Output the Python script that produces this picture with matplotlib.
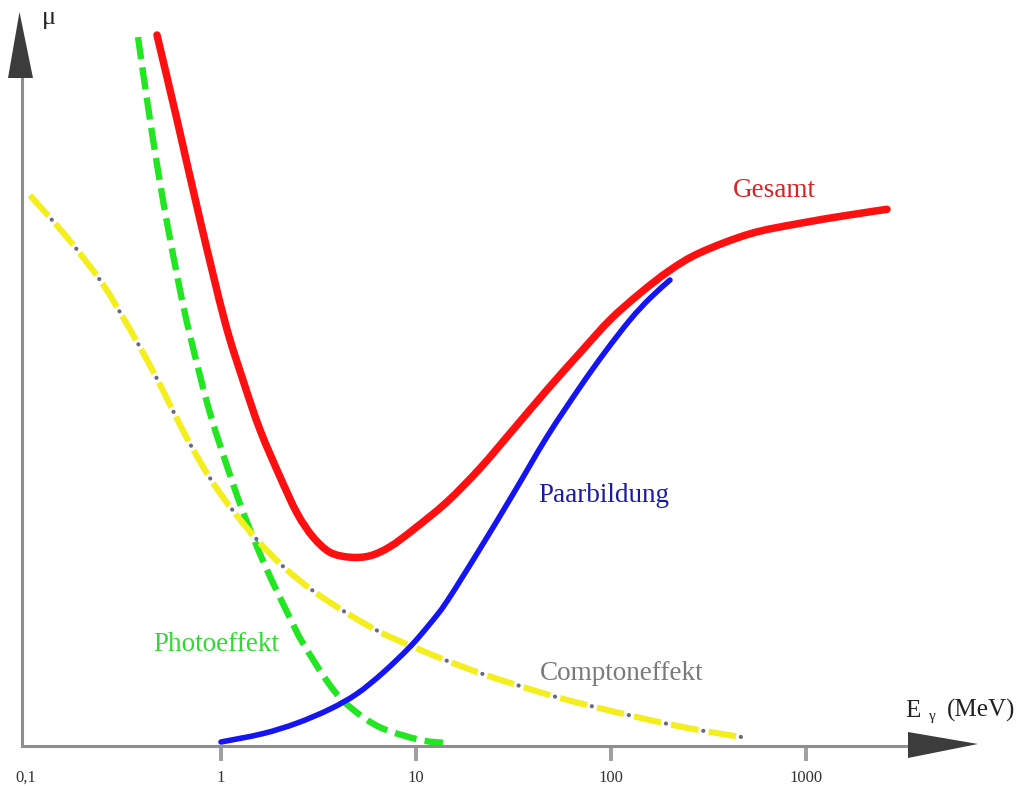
import numpy as np
import matplotlib
matplotlib.use("Agg")
import matplotlib.pyplot as plt
from matplotlib.patches import Polygon, PathPatch
from matplotlib.path import Path
from matplotlib.transforms import IdentityTransform

plt.rcParams["font.family"] = ["Liberation Serif", "DejaVu Serif"]
plt.rcParams["lines.scale_dashes"] = False

# Photon energy E (MeV) and attenuation coefficient mu (arbitrary units)
gesamt_E = [0.4696, 0.5949, 0.7805, 1.0484, 1.2966, 1.585, 2.007, 2.454, 2.963,
            3.622, 4.587, 5.808, 7.356, 9.652, 14.42, 21.29, 31.44, 46.96, 69.35,
            98.83, 140.8, 200.7, 286.1, 516.3, 931.6, 1681, 2603]
gesamt_mu = [101.5, 89.4, 75.1, 60.5, 52.2, 45.1, 38.4, 33.2, 29.8,
             27.6, 26.9, 27.1, 28.4, 30.8, 34.8, 39.6, 45.1, 50.8, 56.1,
             60.8, 64.6, 67.9, 70.4, 73.1, 74.6, 75.8, 76.6]

photo_E = [0.3753, 0.4324, 0.5041, 0.6017, 0.6935, 0.878, 1.152, 1.359,
           1.721, 2.259, 2.634, 3.622, 4.587, 6.538, 10.48, 13.75]
photo_mu = [101.2, 89.4, 77.9, 66.5, 58.6, 47.5, 37.4, 31.9,
            25.1, 18.2, 14.6, 8.6, 5.5, 2.6, 0.8, 0.4]

compton_E = [0.1048, 0.1623, 0.2395, 0.3033, 0.3842, 0.4696, 0.5607, 0.6935,
             0.878, 1.112, 1.53, 2.079, 2.963, 4.428, 6.538, 9.652, 14.42,
             22.06, 34.15, 52.87, 82.79, 129.7, 193.8, 296.4, 469.8]
compton_mu = [78.6, 72.6, 66.5, 61.9, 56.9, 52.4, 48.1, 43.1,
              38.2, 34.1, 29.4, 25.6, 22.1, 18.9, 16.2, 14.1, 12.1,
              10.2, 8.5, 6.9, 5.5, 4.2, 3.1, 2.1, 1.2]

paar_E = [1.0, 1.642, 2.454, 3.622, 4.983, 6.772, 9.316, 11.8, 14.42,
          21.29, 31.44, 46.96, 69.35, 93.16, 125.2, 158.5, 200.7]
paar_mu = [0.5, 1.7, 3.2, 5.2, 7.4, 10.4, 14.1, 17.4, 20.6,
           28.1, 35.9, 44.1, 51.2, 56.2, 60.8, 63.9, 66.5]

tick_energies = [1, 10, 100, 1000]
tick_labels = ["1", "10", "100", "1000"]
first_tick = [0.1]
first_label = ["0,1"]

W, H = 1024, 786
fig = plt.figure(figsize=(W / 100, H / 100), dpi=100)
fig.patch.set_facecolor("white")


def fx(px):
    return px / W


def fy(py):
    return 1 - py / H


ax = fig.add_axes([fx(21.5), fy(745.5), 1 - fx(21.5), fy(0) - fy(745.5)])
ax.set_xscale("log")
ax.set_xlim(0.09484, 13121)
ax.set_ylim(0, 106.5)
ax.patch.set_alpha(0)

axis_grey = "#8e8e8e"
for side in ("top", "right"):
    ax.spines[side].set_visible(False)
for side in ("left", "bottom"):
    ax.spines[side].set_color(axis_grey)
    ax.spines[side].set_linewidth(2.2)
ax.spines["left"].set_bounds(0, 95.4)
ax.spines["bottom"].set_bounds(0.09484, 3335)

ax.set_yticks([])
ax.set_xticks(tick_energies, labels=tick_labels)
ax.set_xticks(first_tick, labels=first_label, minor=True)
ax.tick_params(axis="x", which="major", length=10.8, width=2.9,
               color="#a0a0a0", labelsize=12, labelcolor="#333333", pad=6.6)
ax.tick_params(axis="x", which="minor", length=0, labelsize=12,
               labelcolor="#333333", pad=17.4)

# Arrow heads on both axes
arrow_color = "#3c3c3c"
fig.patches.append(Polygon([(fx(19.5), fy(12)), (fx(8), fy(78)), (fx(33), fy(78))],
                           closed=True, transform=fig.transFigure,
                           facecolor=arrow_color, edgecolor="none"))
fig.patches.append(Polygon([(fx(978), fy(744)), (fx(908), fy(732)), (fx(908), fy(758))],
                           closed=True, transform=fig.transFigure,
                           facecolor=arrow_color, edgecolor="none"))


def smooth_curve(energies, mus):
    """Catmull-Rom Bezier path through the data points, in display space."""
    pts = ax.transData.transform(np.column_stack([energies, mus]))
    verts = [pts[0]]
    codes = [Path.MOVETO]
    n = len(pts)
    for i in range(n - 1):
        p0 = pts[i - 1] if i > 0 else pts[i]
        p1 = pts[i]
        p2 = pts[i + 1]
        p3 = pts[i + 2] if i + 2 < n else pts[i + 1]
        verts += [p1 + (p2 - p0) / 6.0, p2 - (p3 - p1) / 6.0, p2]
        codes += [Path.CURVE4] * 3
    return Path(verts, codes)


def draw_curve(energies, mus, **style):
    patch = PathPatch(smooth_curve(energies, mus), transform=IdentityTransform(),
                      facecolor="none", clip_on=False, **style)
    ax.add_patch(patch)


# Curves
draw_curve(photo_E, photo_mu, edgecolor="#22e622", lw=4.6, ls=(0, (16, 6)),
           capstyle="butt")
draw_curve(compton_E, compton_mu, edgecolor="#f4ef1c", lw=4.4, ls=(0, (20, 7.4)),
           capstyle="butt")
draw_curve(compton_E, compton_mu, edgecolor="#6a6a7a", lw=3.0, ls=(3.9, (0.1, 27.3)),
           capstyle="round")
draw_curve(gesamt_E, gesamt_mu, edgecolor="#ff1010", lw=5.4, capstyle="round",
           joinstyle="round")
draw_curve(paar_E, paar_mu, edgecolor="#1414f5", lw=4.0, capstyle="round",
           joinstyle="round")

# Curve labels
label_size = 19.5
fig.text(fx(733), fy(197), "Gesamt", color="#d42626", fontsize=label_size,
         ha="left", va="baseline")
fig.text(fx(538), fy(502), "Paarbildung", color="#1a1aa8", fontsize=label_size,
         ha="left", va="baseline")
fig.text(fx(540), fy(680), "Comptoneffekt", color="#7a7a7a", fontsize=label_size,
         ha="left", va="baseline")
fig.text(fx(153), fy(651), "Photoeffekt", color="#2edc2e", fontsize=label_size,
         ha="left", va="baseline")

# Axis titles
fig.text(fx(905), fy(717), "E", color="#222222", fontsize=18, ha="left", va="baseline")
fig.text(fx(929), fy(720), "\u03b3", color="#222222", fontsize=11, ha="left", va="baseline")
fig.text(fx(947), fy(717), "(MeV)", color="#222222", fontsize=18, ha="left", va="baseline")
fig.text(fx(42), fy(24), "\u03bc", color="#222222", fontsize=19, ha="left", va="baseline")

fig.savefig("out.png", dpi=100, facecolor="white")
